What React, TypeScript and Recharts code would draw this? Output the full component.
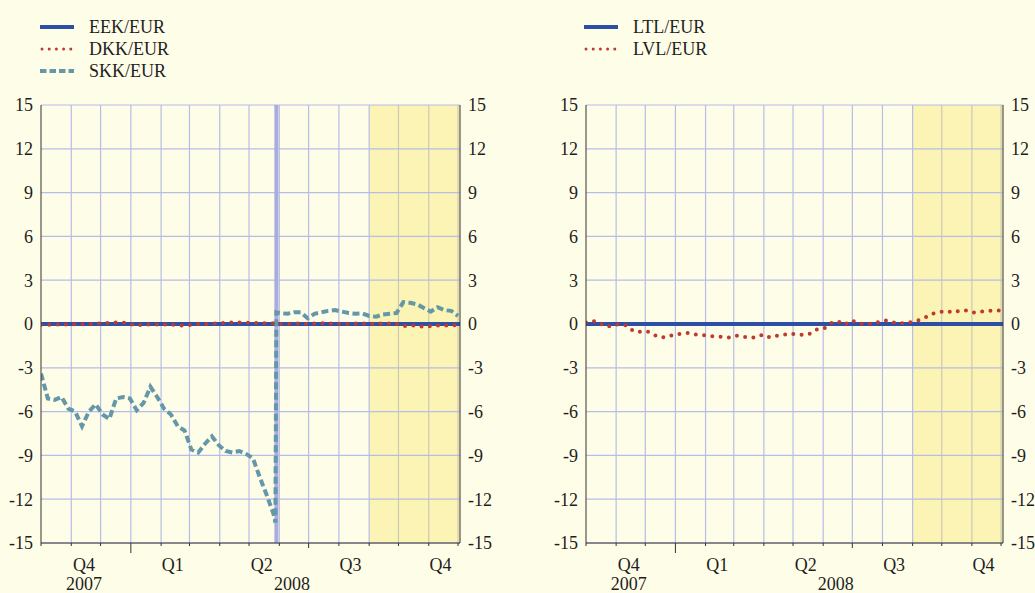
import React from "react";
import { LineChart, Line, XAxis, YAxis, ReferenceLine, ReferenceArea } from "recharts";

const BG = "#FEFDE8";
const GRID = "#B8BCE8";
const GRID_IN_BAND = "#CDC9B4";
const BAND = "#FBF4B4";
const BLUE = "#2D4FA5";
const RED = "#BF3A2E";
const TEAL = "#6497A8";
const AXIS = "#333333";
const FONT = '"Liberation Serif", "Times New Roman", serif';

// x axis in days from 1 Oct 2007
const domainEnd = 429;
const monthStarts = [0, 31, 61, 92, 123, 152, 183, 213, 244, 274, 305, 336, 366, 397, 427];
const quarterLabels = ["Q4", "Q1", "Q2", "Q3", "Q4"];
const quarterCenters = [44, 135, 226, 317, 409];
const yearLabels = ["2007", "2008"];
const yearCenters = [44, 257];
const yearStartDay = 92;
const halfYearDay = 274;
const bandStart = 336;
const yTicks = [-15, -12, -9, -6, -3, 0, 3, 6, 9, 12, 15];

// weekly observations
const eekValues = [0, 0];
const ltlValues = [0, 0];
const skkPre = [
  -3.4, -5.1, -5.2, -5.0, -5.8, -6.0, -7.0, -6.0, -5.5, -6.2, -6.5, -5.1, -5.0, -5.1, -5.9, -5.4,
  -4.3, -5.0, -5.8, -6.2, -7.0, -7.3, -8.6, -8.8, -8.2, -7.7, -8.3, -8.7, -8.8, -8.7, -8.9, -9.2,
  -10.5, -11.7, -13.0,
];
const revalDay = 241;
const skkRevalLow = -13.6;
const skkRevalHigh = 0.8;
const skkPost = [
  0.75, 0.7, 0.8, 0.8, 0.4, 0.7, 0.8, 0.9, 0.95, 0.85, 0.75, 0.7, 0.72, 0.55, 0.5, 0.65, 0.7, 0.75,
  1.5, 1.45, 1.35, 1.1, 0.85, 1.15, 0.95, 0.9, 0.55,
];
const dkkValues = [
  -0.05, -0.05, -0.03, -0.03, -0.03, -0.02, -0.02, 0, 0.03, 0.05, 0.08, 0.1, 0.1, 0.0, -0.1, -0.03,
  -0.03, -0.03, -0.03, -0.03, -0.1, -0.1, -0.05, 0, 0, 0.02, 0.05, 0.08, 0.1, 0.1, 0.08, 0.08, 0.06,
  0.05, 0.05, 0, 0.02, 0.03, 0.03, 0.02, 0.03, 0.05, 0.05, 0.03, 0.02, 0.02, 0.03, 0.03, 0.02, 0.03,
  0.03, 0.03, 0.02, -0.15, -0.12, -0.1, -0.2, -0.15, -0.1, -0.1, -0.08, -0.1,
];
const lvlValues = [
  0.1, 0.22, 0.05, -0.2, -0.08, 0, -0.1, -0.5, -0.53, -0.5, -0.75, -0.93, -0.88, -0.7, -0.68, -0.62,
  -0.72, -0.75, -0.8, -0.87, -0.88, -0.92, -0.8, -0.87, -0.94, -0.9, -0.72, -0.92, -0.8, -0.75, -0.65,
  -0.71, -0.75, -0.65, -0.35, -0.3, 0.05, 0.2, -0.05, 0.25, 0.08, -0.05, 0.05, 0.12, 0.25, 0.12, 0.05,
  0.05, 0.15, 0.27, 0.48, 0.72, 0.82, 0.9, 0.78, 0.92, 0.92, 0.78, 0.85, 0.89, 0.92, 0.92,
];

const weekly = (vals: number[], startWeek = 0) =>
  vals.map((v, i) => ({ day: (startWeek + i) * 7, v }));
const flat = (vals: number[]) => [
  { day: 0, v: vals[0] },
  { day: domainEnd, v: vals[1] },
];

const skkData = [
  ...weekly(skkPre),
  { day: revalDay - 1, v: skkRevalLow },
  { day: revalDay, v: skkRevalHigh },
  ...weekly(skkPost, skkPre.length),
];

const xTicks = Array.from(new Set([...monthStarts, ...quarterCenters, ...yearCenters])).sort(
  (a, b) => a - b
);

const textStyle = { fontFamily: FONT, fontSize: 18, fill: "#1E1E1E" };

function TimeTick(props: any) {
  const { x, y, payload } = props;
  const v = payload.value;
  const parts: React.ReactNode[] = [];
  if (monthStarts.includes(v)) {
    const len = v === yearStartDay ? 10 : v === halfYearDay ? 5 : 3;
    parts.push(<line key="t" x1={x} x2={x} y1={y} y2={y + len} stroke={AXIS} strokeWidth={1} />);
  }
  const qi = quarterCenters.indexOf(v);
  if (qi >= 0) {
    parts.push(
      <text key="q" x={x} y={y + 28} textAnchor="middle" {...textStyle}>
        {quarterLabels[qi]}
      </text>
    );
  }
  const yi = yearCenters.indexOf(v);
  if (yi >= 0) {
    parts.push(
      <text key="y" x={x} y={y + 47} textAnchor="middle" {...textStyle}>
        {yearLabels[yi]}
      </text>
    );
  }
  return <g>{parts}</g>;
}

type Series = {
  name: string;
  data: { day: number; v: number }[];
  color: string;
  width: number;
  dash?: string;
  cap?: "round" | "butt";
};

const leftSeries: Series[] = [
  { name: "EEK/EUR", data: flat(eekValues), color: BLUE, width: 4 },
  { name: "SKK/EUR", data: skkData, color: TEAL, width: 4, dash: "7 3.5" },
  { name: "DKK/EUR", data: weekly(dkkValues), color: RED, width: 4, dash: "0 8.3", cap: "round" },
];
const rightSeries: Series[] = [
  { name: "LTL/EUR", data: flat(ltlValues), color: BLUE, width: 4 },
  { name: "LVL/EUR", data: weekly(lvlValues), color: RED, width: 4, dash: "0 8.3", cap: "round" },
];

const leftLegend = [
  { name: "EEK/EUR", color: BLUE, dash: undefined, cap: "butt" },
  { name: "DKK/EUR", color: RED, dash: "0 7.2", cap: "round" },
  { name: "SKK/EUR", color: TEAL, dash: "6.5 3", cap: "butt" },
];
const rightLegend = [
  { name: "LTL/EUR", color: BLUE, dash: undefined, cap: "butt" },
  { name: "LVL/EUR", color: RED, dash: "0 7.2", cap: "round" },
];

function LegendBox({ items, left }: { items: typeof leftLegend; left: number }) {
  return (
    <div style={{ position: "absolute", left, top: 16 }}>
      {items.map((it) => (
        <div key={it.name} style={{ display: "flex", alignItems: "center", height: 22 }}>
          <svg width={36} height={8} style={{ marginRight: 13 }}>
            <line
              x1={it.cap === "round" ? 2 : 0}
              x2={34}
              y1={4}
              y2={4}
              stroke={it.color}
              strokeWidth={it.cap === "round" ? 3 : 4}
              strokeDasharray={it.dash}
              strokeLinecap={it.cap as any}
            />
          </svg>
          <span style={{ fontFamily: FONT, fontSize: 18, color: "#1E1E1E", lineHeight: "22px" }}>
            {it.name}
          </span>
        </div>
      ))}
    </div>
  );
}

function Panel({
  series,
  width,
  leftW,
  rightW,
  showReval,
}: {
  series: Series[];
  width: number;
  leftW: number;
  rightW: number;
  showReval: boolean;
}) {
  return (
    <LineChart width={width} height={593} margin={{ top: 105, right: 0, bottom: 0, left: 0 }}>
      <XAxis
        type="number"
        dataKey="day"
        domain={[0, domainEnd]}
        ticks={xTicks}
        interval={0}
        allowDataOverflow
        tick={<TimeTick />}
        tickLine={false}
        tickSize={0}
        tickMargin={0}
        axisLine={{ stroke: AXIS, strokeWidth: 1 }}
        height={50}
      />
      <YAxis
        yAxisId="l"
        orientation="left"
        width={leftW}
        domain={[-15, 15]}
        ticks={yTicks}
        interval={0}
        allowDataOverflow
        tickLine={false}
        tickSize={6}
        tickMargin={2}
        axisLine={{ stroke: AXIS, strokeWidth: 1 }}
        tick={textStyle}
      />
      <YAxis
        yAxisId="r"
        orientation="right"
        width={rightW}
        domain={[-15, 15]}
        ticks={yTicks}
        interval={0}
        allowDataOverflow
        tickLine={false}
        tickSize={6}
        tickMargin={2}
        axisLine={{ stroke: AXIS, strokeWidth: 1 }}
        tick={textStyle}
      />
      <ReferenceArea
        yAxisId="l"
        x1={bandStart}
        x2={domainEnd}
        y1={-15}
        y2={15}
        fill={BAND}
        fillOpacity={1}
        stroke="none"
      />
      {monthStarts.slice(1).map((d) => (
        <ReferenceLine
          key={"m" + d}
          yAxisId="l"
          x={d}
          stroke={d > bandStart ? GRID_IN_BAND : GRID}
          strokeWidth={1.2}
        />
      ))}
      {yTicks.map((t) => (
        <ReferenceLine key={"h" + t} yAxisId="l" y={t} stroke={GRID} strokeWidth={1.2} />
      ))}
      {showReval && (
        <ReferenceLine yAxisId="l" x={revalDay} stroke="#A8ACDE" strokeWidth={4} />
      )}
      {series.map((s) => (
        <Line
          key={s.name}
          yAxisId="l"
          data={s.data}
          dataKey="v"
          name={s.name}
          type="linear"
          stroke={s.color}
          strokeWidth={s.width}
          strokeDasharray={s.dash}
          strokeLinecap={s.cap ?? "butt"}
          dot={false}
          activeDot={false}
          isAnimationActive={false}
        />
      ))}
    </LineChart>
  );
}

export default function App() {
  return (
    <div
      style={{
        position: "absolute",
        left: 0,
        top: 0,
        width: 1035,
        height: 593,
        background: BG,
        overflow: "hidden",
      }}
    >
      <LegendBox items={leftLegend} left={40} />
      <LegendBox items={rightLegend} left={584} />
      <div style={{ position: "absolute", left: 0, top: 0 }}>
        <Panel series={leftSeries} width={520} leftW={41} rightW={60} showReval />
      </div>
      <div style={{ position: "absolute", left: 544, top: 0 }}>
        <Panel series={rightSeries} width={491} leftW={42} rightW={32} showReval={false} />
      </div>
    </div>
  );
}
